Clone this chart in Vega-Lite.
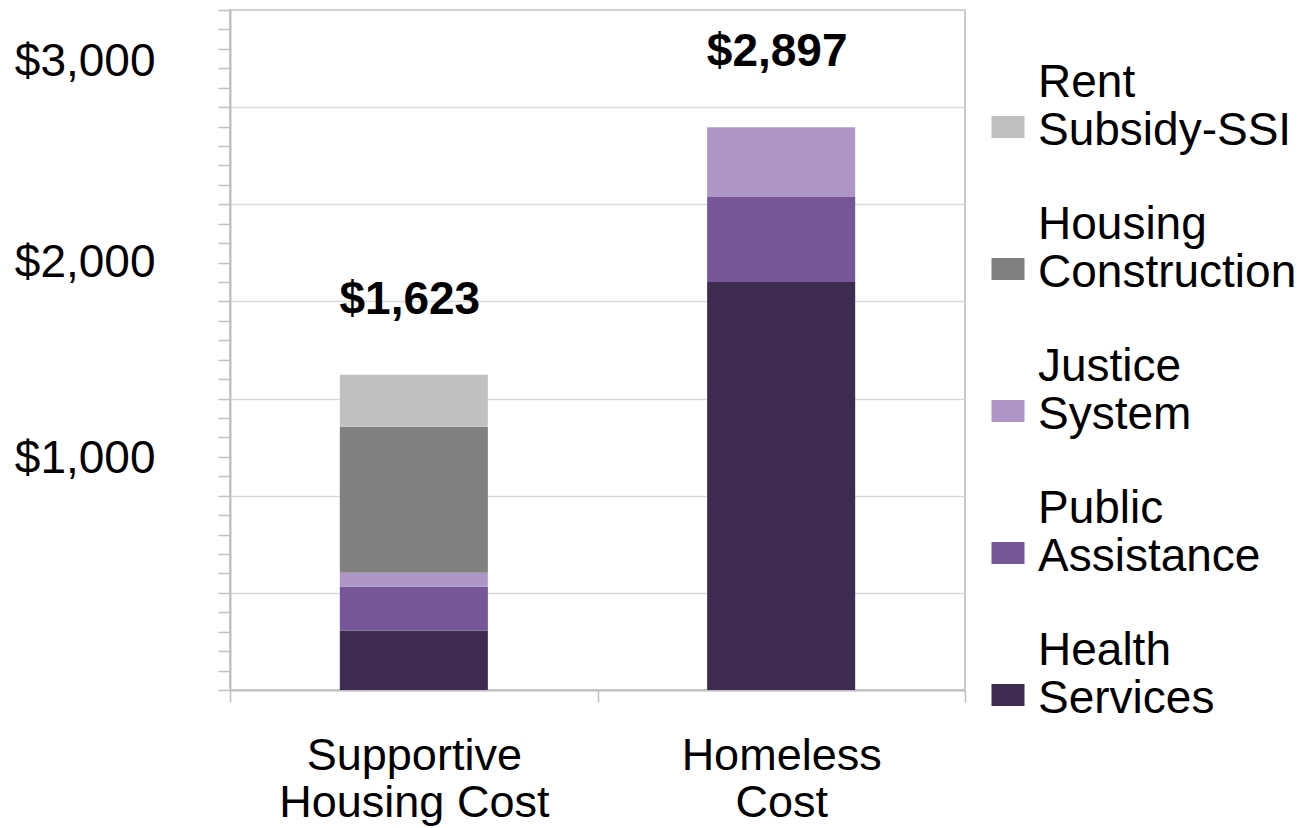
{
  "$schema": "https://vega.github.io/schema/vega-lite/v6.json",
  "width": 735,
  "height": 680,
  "autosize": {"type": "none"},
  "padding": {"left": 230, "top": 10, "right": 346, "bottom": 138},
  "background": "white",
  "config": {
    "font": "Liberation Sans",
    "view": {"stroke": "#c8c8c8", "strokeWidth": 2},
    "axis": {
      "domainColor": "#c0c0c0",
      "domainWidth": 2,
      "tickColor": "#c0c0c0",
      "tickWidth": 1.5,
      "labelColor": "black",
      "labelFont": "Liberation Sans",
      "gridColor": "#d9d9d9",
      "gridWidth": 1.5
    },
    "legend": {"labelFont": "Liberation Sans", "labelColor": "black"}
  },
  "data": {
    "values": [
      {"category": "Supportive Housing Cost", "segment": "Health Services", "value": 306},
      {"category": "Supportive Housing Cost", "segment": "Public Assistance", "value": 226},
      {"category": "Supportive Housing Cost", "segment": "Justice System", "value": 72},
      {"category": "Supportive Housing Cost", "segment": "Housing Construction", "value": 751},
      {"category": "Supportive Housing Cost", "segment": "Rent Subsidy-SSI", "value": 268},
      {"category": "Homeless Cost", "segment": "Health Services", "value": 2100},
      {"category": "Homeless Cost", "segment": "Public Assistance", "value": 437},
      {"category": "Homeless Cost", "segment": "Justice System", "value": 360}
    ]
  },
  "transform": [
    {"calculate": "indexof(['Health Services','Public Assistance','Justice System','Housing Construction','Rent Subsidy-SSI'], datum.segment)", "as": "stackOrder"}
  ],
  "encoding": {
    "x": {
      "field": "category",
      "type": "nominal",
      "sort": ["Supportive Housing Cost", "Homeless Cost"],
      "scale": {"paddingInner": 0.597, "paddingOuter": 0.299},
      "axis": {
        "title": null,
        "bandPosition": 2.486,
        "tickExtra": true,
        "tickOffset": -110,
        "labelOffset": 110,
        "tickSize": 12,
        "grid": false,
        "labelAngle": 0,
        "labelFontSize": 45,
        "labelLineHeight": 47,
        "labelPadding": 31,
        "labelBaseline": "top",
        "labelLimit": 400,
        "labelExpr": "datum.label == 'Supportive Housing Cost' ? ['Supportive', 'Housing Cost'] : (datum.label == 'Homeless Cost' ? ['Homeless', 'Cost'] : '')"
      }
    },
    "y": {
      "field": "value",
      "type": "quantitative",
      "stack": "zero",
      "scale": {"domain": [0, 3500], "nice": false},
      "axis": {
        "title": null,
        "values": [0,100,200,300,400,500,600,700,800,900,1000,1100,1200,1300,1400,1500,1600,1700,1800,1900,2000,2100,2200,2300,2400,2500,2600,2700,2800,2900,3000,3100,3200,3300,3400,3500],
        "format": "$,.0f",
        "labelExpr": "datum.value == 1000 || datum.value == 2000 || datum.value == 3000 ? datum.label : ''",
        "labelFontSize": 46,
        "labelAlign": "right",
        "labelBaseline": "middle",
        "labelPadding": 63,
        "labelOffset": {"condition": [{"test": "datum.value == 3000", "value": -46}, {"test": "datum.value == 2000", "value": -39}], "value": -37},
        "tickSize": 12,
        "grid": true,
        "gridOpacity": {"condition": {"test": "datum.value % 500 === 0", "value": 1}, "value": 0}
      }
    }
  },
  "layer": [
    {
      "mark": {"type": "bar"},
      "encoding": {
        "color": {
          "field": "segment",
          "type": "nominal",
          "scale": {
            "domain": ["Rent Subsidy-SSI", "Housing Construction", "Justice System", "Public Assistance", "Health Services"],
            "range": ["#c0c0c0", "#808080", "#ae96c7", "#765598", "#3d2b50"]
          },
          "legend": {
            "title": null,
            "orient": "none",
            "legendX": 755,
            "legendY": 50,
            "padding": 0,
            "symbolType": "M-1,2H1V3.333H-1Z",
            "symbolSize": 1089,
            "symbolStrokeWidth": 0,
            "symbolOpacity": 1,
            "labelFontSize": 46,
            "labelLineHeight": 43,
            "labelOffset": 7,
            "labelLimit": 400,
            "labelBaseline": "middle",
            "rowPadding": 0,
            "labelExpr": "[split(datum.label, ' ')[0], split(datum.label, ' ')[1], '']"
          }
        },
        "order": {"field": "stackOrder", "type": "quantitative", "sort": "ascending"}
      }
    },
    {
      "transform": [
        {"aggregate": [{"op": "sum", "field": "value", "as": "value"}], "groupby": ["category"]}
      ],
      "mark": {"type": "text", "fontWeight": "bold", "fontSize": 46, "dy": -61, "dx": -4, "baseline": "alphabetic", "color": "black"},
      "encoding": {
        "text": {"field": "value", "type": "quantitative", "format": "$,.0f"}
      }
    }
  ]
}
